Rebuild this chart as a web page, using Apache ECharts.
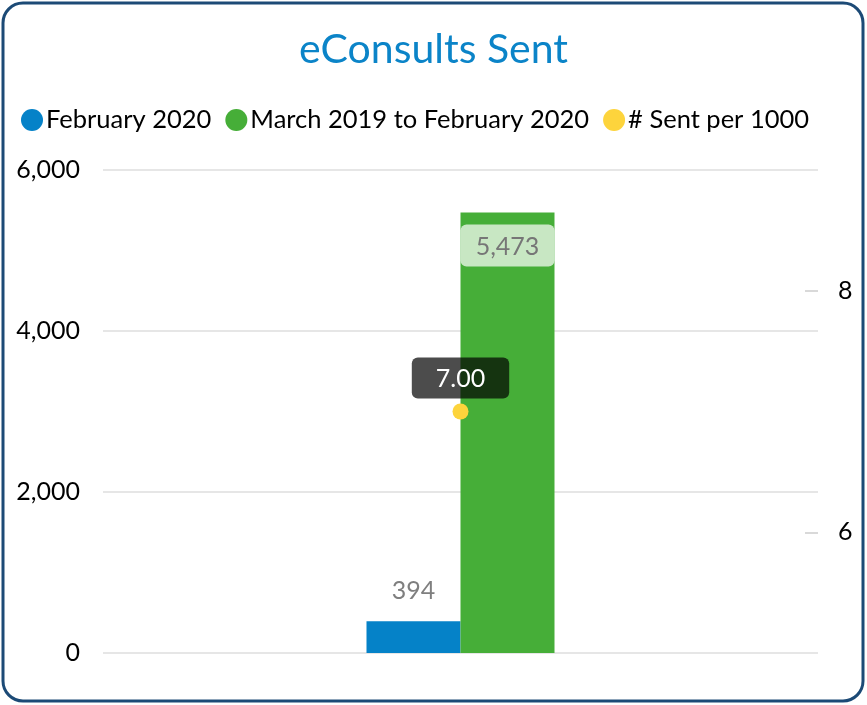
<!DOCTYPE html>
<html><head><meta charset="utf-8">
<script src="https://cdn.jsdelivr.net/npm/echarts@6/dist/echarts.min.js"></script>
<style>html,body{margin:0;padding:0;background:#fff}#c{width:867px;height:705px}</style>
</head><body><div id="c"></div>
<script>
const categories = [''];
const febValues = [394];
const yearValues = [5473];
const perThousand = [7.00];
const leftTicks = [0, 2000, 4000, 6000];
const rightTickLabels = [6, 8];
const seriesNames = ['February 2020', 'March 2019 to February 2020', '# Sent per 1000'];

const FONT = 'Lato';
const chart = echarts.init(document.getElementById('c'));
chart.setOption({
  animation: false,
  textStyle: { fontFamily: FONT },
  title: { text: 'eConsults Sent', left: 'center', top: 24,
    textStyle: { color: '#0b84c8', fontSize: 41, fontWeight: 'normal', fontFamily: FONT } },
  legend: { left: 16, top: 102, itemWidth: 22, itemHeight: 22, itemGap: 14, icon: 'circle',
    textStyle: { fontSize: 25.5, color: '#000', fontFamily: FONT, padding: [0, 0, 0, -2] },
    data: seriesNames },
  graphic: [{ type: 'rect', shape: { x: 3, y: 3, width: 860, height: 698, r: 20 },
    style: { fill: 'none', stroke: '#1c4a76', lineWidth: 3 }, silent: true, z: 100 }],
  grid: { left: 103, right: 49, top: 170, bottom: 52 },
  xAxis: { type: 'category', data: categories, axisLine: { show: false }, axisTick: { show: false }, axisLabel: { show: false } },
  yAxis: [
    { type: 'value', min: leftTicks[0], max: leftTicks[leftTicks.length - 1], interval: 2000,
      axisLine: { show: false }, axisTick: { show: false },
      axisLabel: { fontSize: 25, color: '#000', margin: 23, formatter: v => v.toLocaleString('en-US') },
      splitLine: { lineStyle: { color: '#e6e6e6', width: 2 } } },
    { type: 'value', min: 5, max: 9, interval: 1, position: 'right',
      axisLine: { show: false },
      axisTick: { show: true, inside: true, length: 13, customValues: rightTickLabels, lineStyle: { color: '#d9d9d9', width: 2 } },
      axisLabel: { fontSize: 25, color: '#000', margin: 20, customValues: rightTickLabels },
      splitLine: { show: false } }
  ],
  series: [
    { name: seriesNames[0], type: 'bar', data: febValues, barWidth: 94, barGap: '0%',
      itemStyle: { color: '#0582c8' },
      label: { show: true, position: 'top', distance: 18, fontSize: 25, color: '#7f7f7f', fontFamily: FONT } },
    { name: seriesNames[1], type: 'bar', data: yearValues, barWidth: 94, barGap: '0%',
      itemStyle: { color: '#46ae38' },
      label: { show: true, position: 'insideTop', distance: 12, fontSize: 25, color: '#767676', fontFamily: FONT,
        backgroundColor: 'rgba(255,255,255,0.7)', borderRadius: 6, padding: [10, 16, 7, 16], width: 62, align: 'center',
        formatter: p => p.value.toLocaleString('en-US') } },
    { name: seriesNames[2], type: 'line', yAxisIndex: 1, data: perThousand, symbol: 'circle', symbolSize: 16,
      itemStyle: { color: '#fdd43c' }, lineStyle: { color: '#fdd43c' }, z: 5,
      label: { show: true, position: 'top', distance: 5, fontSize: 25, color: '#fff', fontFamily: FONT,
        backgroundColor: 'rgba(0,0,0,0.7)', borderRadius: 6, padding: [9, 24, 7, 24],
        formatter: p => p.value.toFixed(2) } }
  ]
});
</script></body></html>
